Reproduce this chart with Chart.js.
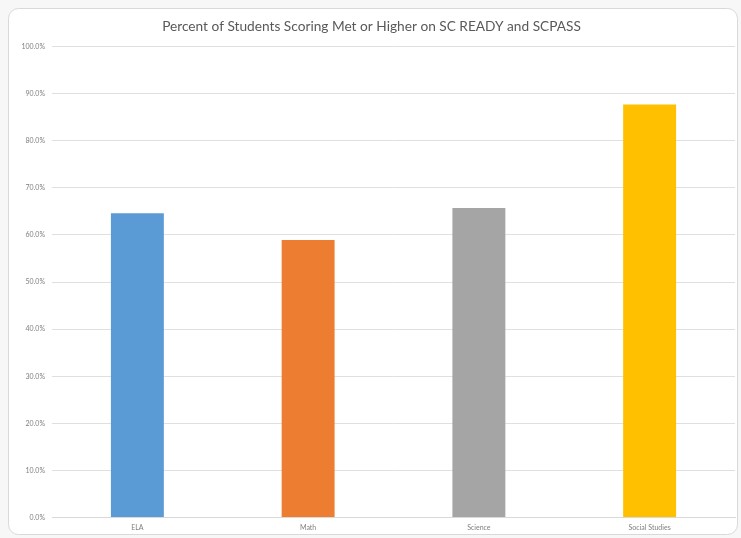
<!DOCTYPE html>
<html>
<head>
<meta charset="utf-8">
<script src="https://cdn.jsdelivr.net/npm/chart.js@4"></script>
<style>
  html, body { margin: 0; padding: 0; background: #fff; }
  #wrap { width: 741px; height: 538px; }
</style>
</head>
<body>
<div id="wrap"><canvas id="scoreChart" width="741" height="538"></canvas></div>
<script>
// Chart data
const subjects = ['ELA', 'Math', 'Science', 'Social Studies'];
const percentMet = [64.6, 58.9, 65.7, 87.7];
const barColors = ['#5B9BD5', '#ED7D31', '#A5A5A5', '#FFC000'];
const yTicks = [0, 10, 20, 30, 40, 50, 60, 70, 80, 90, 100];

const chartTitle = 'Percent of Students Scoring Met or Higher on SC READY and SCPASS';

// rounded frame like the Excel chart area
const framePlugin = {
    id: 'frame',
    beforeDraw(chart) {
        const ctx = chart.ctx;
        ctx.save();
        ctx.fillStyle = '#f7f7f7';
        ctx.fillRect(0, 0, chart.width, chart.height);
        ctx.beginPath();
        ctx.roundRect(8.5, 8.5, 729, 526, 10);
        ctx.fillStyle = '#ffffff';
        ctx.fill();
        ctx.strokeStyle = '#d9d9d9';
        ctx.lineWidth = 1;
        ctx.stroke();
        ctx.restore();
    }
};

document.addEventListener('DOMContentLoaded', () => {
    const ctx = document.getElementById('scoreChart').getContext('2d');
    new Chart(ctx, {
        type: 'bar',
        data: {
            labels: subjects,
            datasets: [{
                data: percentMet,
                backgroundColor: barColors,
                borderWidth: 0,
                barPercentage: 0.31,
                categoryPercentage: 1.0
            }]
        },
        plugins: [framePlugin],
        options: {
            responsive: false,
            animation: false,
            devicePixelRatio: 1,
            layout: {
                padding: { left: 8, right: 6, top: 8, bottom: 0 }
            },
            plugins: {
                legend: { display: false },
                tooltip: { enabled: false },
                title: {
                    display: true,
                    text: chartTitle,
                    color: '#595959',
                    font: { family: 'Lato', size: 13.7, weight: 'normal' },
                    padding: { top: 10, bottom: 12 }
                }
            },
            scales: {
                y: {
                    min: 0,
                    max: 100,
                    afterBuildTicks(scale) {
                        scale.ticks = yTicks.map(v => ({ value: v }));
                    },
                    afterFit(scale) { scale.width = 44; },
                    ticks: {
                        padding: 7,
                        color: '#7f7f7f',
                        font: { family: 'Lato', size: 7 },
                        callback: v => v.toFixed(1) + '%'
                    },
                    grid: {
                        color: '#e0e0e0',
                        lineWidth: 1,
                        drawTicks: false
                    },
                    border: { display: false }
                },
                x: {
                    ticks: {
                        padding: 6,
                        color: '#7f7f7f',
                        font: { family: 'Lato', size: 7 },
                        maxRotation: 0,
                        autoSkip: false
                    },
                    grid: { display: false, drawTicks: false },
                    border: { color: '#d9d9d9', width: 1 }
                }
            }
        }
    });
});
</script>
</body>
</html>
